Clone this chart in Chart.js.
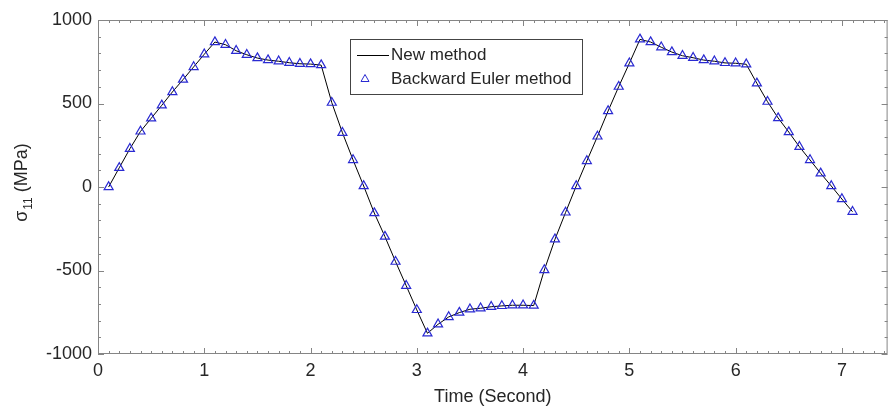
<!DOCTYPE html>
<html>
<head>
<meta charset="utf-8">
<script src="https://cdn.jsdelivr.net/npm/chart.js@4"></script>
<style>
  html, body { margin: 0; padding: 0; background: #fff; }
  #wrap { width: 894px; height: 410px; }
</style>
</head>
<body>
<div id="wrap"><canvas id="c" width="894" height="410"></canvas></div>
<script>
// sigma_11 vs time, new method vs backward Euler

var timeValues = [0.1, 0.2, 0.3, 0.4, 0.5, 0.6, 0.7, 0.8, 0.9, 1.0,
                  1.1, 1.2, 1.3, 1.4, 1.5, 1.6, 1.7, 1.8, 1.9, 2.0,
                  2.1, 2.2, 2.3, 2.4, 2.5, 2.6, 2.7, 2.8, 2.9, 3.0,
                  3.1, 3.2, 3.3, 3.4, 3.5, 3.6, 3.7, 3.8, 3.9, 4.0,
                  4.1, 4.2, 4.3, 4.4, 4.5, 4.6, 4.7, 4.8, 4.9, 5.0,
                  5.1, 5.2, 5.3, 5.4, 5.5, 5.6, 5.7, 5.8, 5.9, 6.0,
                  6.1, 6.2, 6.3, 6.4, 6.5, 6.6, 6.7, 6.8, 6.9, 7.0, 7.1];

var newMethod = [0, 115, 229, 333, 411, 489, 569, 643, 719, 795,
                 868, 852, 816, 792, 772, 760, 753, 744, 738, 736,
                 730, 505, 325, 162, 6, -156, -297, -447, -591, -736,
                 -876, -822, -778, -752, -732, -726, -717, -712, -708, -708,
                 -710, -497, -313, -152, 6, 156, 303, 455, 601, 741,
                 884, 868, 837, 808, 786, 774, 760, 753, 743, 741,
                 735, 621, 511, 413, 329, 241, 162, 82, 6, -72, -148];

var backwardEuler = [0, 115, 229, 333, 411, 489, 569, 643, 719, 795,
                     868, 852, 816, 792, 772, 760, 753, 744, 738, 736,
                     730, 505, 325, 162, 6, -156, -297, -447, -591, -736,
                     -876, -822, -778, -752, -732, -726, -717, -712, -708, -708,
                     -710, -497, -313, -152, 6, 156, 303, 455, 601, 741,
                     884, 868, 837, 808, 786, 774, 760, 753, 743, 741,
                     735, 621, 511, 413, 329, 241, 162, 82, 6, -72, -148];

var seriesNames = ["New method", "Backward Euler method"];

var TEXT = "#262626";
var FRAME = "#858585";
var MARK = "#2a2ad2";
var FONT = "'Liberation Sans', Arial, sans-serif";

function pairs(xs, ys) {
  return xs.map(function (x, i) { return { x: x, y: ys[i] }; });
}

// MATLAB-like box with inward ticks, y title with subscript, legend
var boxPlugin = {
  id: "box",
  afterDraw: function (chart) {
    var ctx = chart.ctx, a = chart.chartArea;
    var xs = chart.scales.x, ys = chart.scales.y;
    ctx.save();
    ctx.strokeStyle = FRAME;
    ctx.lineWidth = 1;
    ctx.strokeRect(a.left + 0.5, a.top + 0.5, a.right - a.left - 1, a.bottom - a.top - 1);

    ctx.beginPath();
    var v, px, len;
    for (v = 0; v <= 74; v++) {
      px = Math.round(xs.getPixelForValue(v / 10)) + 0.5;
      if (px > a.right - 1) break;
      len = (v % 10 === 0) ? 6 : 3;
      ctx.moveTo(px, a.bottom); ctx.lineTo(px, a.bottom - len);
      ctx.moveTo(px, a.top); ctx.lineTo(px, a.top + len);
    }
    for (v = -10; v <= 10; v++) {
      var py = Math.round(ys.getPixelForValue(v * 100)) + 0.5;
      len = (v % 5 === 0) ? 6 : 3;
      ctx.moveTo(a.left, py); ctx.lineTo(a.left + len, py);
      ctx.moveTo(a.right, py); ctx.lineTo(a.right - len, py);
    }
    ctx.stroke();

    // y axis title: sigma_11 (MPa)
    ctx.save();
    ctx.translate(27, (a.top + a.bottom) / 2 - 4);
    ctx.rotate(-Math.PI / 2);
    ctx.fillStyle = TEXT;
    ctx.textBaseline = "alphabetic";
    ctx.font = "18px " + FONT;
    var w1 = ctx.measureText("\u03c3").width;
    ctx.font = "12px " + FONT;
    var w2 = ctx.measureText("11").width;
    ctx.font = "18px " + FONT;
    var w3 = ctx.measureText(" (MPa)").width;
    var x0 = -(w1 + w2 + w3) / 2;
    ctx.fillText("\u03c3", x0, 0);
    ctx.font = "12px " + FONT;
    ctx.fillText("11", x0 + w1 + 1, 5);
    ctx.font = "18px " + FONT;
    ctx.fillText(" (MPa)", x0 + w1 + w2 + 1, 0);
    ctx.restore();

    // legend
    var lx = 350, ly = 39, lw = 232, lh = 55;
    ctx.fillStyle = "#fff";
    ctx.fillRect(lx, ly, lw, lh);
    ctx.strokeStyle = "#444";
    ctx.strokeRect(lx + 0.5, ly + 0.5, lw, lh);
    ctx.strokeStyle = "#000";
    ctx.beginPath();
    ctx.moveTo(357, 55.5); ctx.lineTo(389, 55.5);
    ctx.stroke();
    ctx.strokeStyle = MARK;
    ctx.beginPath();
    ctx.moveTo(365, 74.5); ctx.lineTo(369, 81.5); ctx.lineTo(361, 81.5); ctx.closePath();
    ctx.stroke();
    ctx.fillStyle = TEXT;
    ctx.font = "17px " + FONT;
    ctx.textBaseline = "middle";
    ctx.fillText(seriesNames[0], 391, 55);
    ctx.fillText(seriesNames[1], 391, 79);
    ctx.restore();
  }
};

Chart.defaults.font.family = FONT;
Chart.defaults.color = TEXT;

new Chart(document.getElementById("c"), {
  type: "line",
  data: {
    datasets: [{
      label: seriesNames[0],
      data: pairs(timeValues, newMethod),
      borderColor: "#000",
      borderWidth: 1,
      pointRadius: 0,
      tension: 0,
      order: 2
    }, {
      label: seriesNames[1],
      data: pairs(timeValues, backwardEuler),
      showLine: false,
      pointStyle: "triangle",
      pointRadius: 5.2,
      pointBorderWidth: 1.2,
      pointBorderColor: MARK,
      pointBackgroundColor: "rgba(255,255,255,0)",
      order: 1
    }]
  },
  options: {
    responsive: false,
    animation: false,
    layout: { padding: { left: 0, right: 3, top: 20, bottom: 0 } },
    plugins: { legend: { display: false }, tooltip: { enabled: false } },
    scales: {
      x: {
        type: "linear",
        min: 0,
        max: 7.43,
        grid: { display: false, drawTicks: false },
        border: { display: false },
        ticks: { stepSize: 1, includeBounds: false, padding: 6, font: { size: 18 }, color: TEXT, maxRotation: 0 },
        title: { display: true, text: "Time (Second)", font: { size: 18 }, color: TEXT, padding: { top: 0, bottom: 2 } },
        afterFit: function (s) { s.height = 56; }
      },
      y: {
        min: -1000,
        max: 1000,
        grid: { display: false, drawTicks: false },
        border: { display: false },
        ticks: { stepSize: 500, padding: 6, font: { size: 18 }, color: TEXT,
                 callback: function (v) { return String(v); } },
        afterFit: function (s) { s.width = 98; }
      }
    }
  },
  plugins: [boxPlugin]
});
</script>
</body>
</html>
